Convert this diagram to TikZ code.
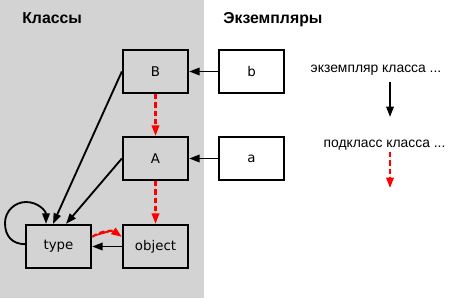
\documentclass[tikz,border=0pt]{standalone}
\usepackage{fontspec}
\setmainfont{Liberation Sans}
\newfontfamily\boxfont{DejaVu Sans}
\usetikzlibrary{arrows.meta}
\definecolor{clsgray}{HTML}{D3D3D3}
\definecolor{subred}{HTML}{FF0000}
\tikzset{
  box/.style={draw,line width=1.3pt,minimum width=1.3cm,minimum height=0.86cm,inner sep=0pt,font=\boxfont\fontsize{7.6}{9}\selectfont},
  title/.style={anchor=base west,inner sep=0pt,font=\bfseries\fontsize{9}{11}\selectfont},
  instof/.style={-{Triangle[length=0.21cm,width=0.15cm]},line width=1.05pt},
  subof/.style={instof,draw=subred,fill=subred,line width=1.15pt,dash pattern=on 3pt off 1.7pt}
}
\begin{document}
\begin{tikzpicture}[x=0.02cm,y=-0.02cm,font=\fontsize{9.2}{11}\selectfont]
\useasboundingbox (0,0) rectangle (452,298);
\fill[clsgray] (0,0) rectangle (204,298);
\node[title] (titlecls) at (22,23) {Классы};
\node[title] (titleinst) at (223,23) {Экземпляры};
\node[box,fill=clsgray] (B) at (155.5,71.5) {B};
\node[box,fill=clsgray] (A) at (155.5,158.5) {A};
\node[box,fill=clsgray] (type) at (58.5,246.5) {type};
\node[box,fill=clsgray] (object) at (155.5,246.5) {object};
\node[box,fill=white] (b) at (251.5,71.5) {b};
\node[box,fill=white] (a) at (251.5,158.5) {a};
\draw[instof] (b) -- (B);
\draw[instof] (a) -- (A);
\draw[instof] (B.west) -- ([xshift=-5.5*0.02cm]type.north);
\draw[instof] (A.west) -- ([xshift=7.5*0.02cm]type.north);
\draw[instof] (object) -- (type);
\draw[instof] (type.176) .. controls (12,244) and (5,236) .. (5,223)
  .. controls (5,211) and (15,202) .. (26,202)
  .. controls (38,202) and (46,211) .. ([xshift=-12.5*0.02cm]type.north);
\draw[subof] (B) -- (A);
\draw[subof] (A) -- (object);
\draw[subof] (type.16) to[bend left=35] (object.164);
\node[font=\fontsize{7.9}{9}\selectfont] (legendinst) at (376,70) {экземпляр класса ...};
\node[font=\fontsize{7.9}{9}\selectfont] (legendsub) at (384.5,145) {подкласс класса ...};
\coordinate (insttop) at (390,82);
\coordinate (instbot) at (390,117);
\coordinate (subtop) at (390,152);
\coordinate (subbot) at (390,188);
\draw[instof] (insttop) -- (instbot);
\draw[subof] (subtop) -- (subbot);
\end{tikzpicture}
\end{document}
